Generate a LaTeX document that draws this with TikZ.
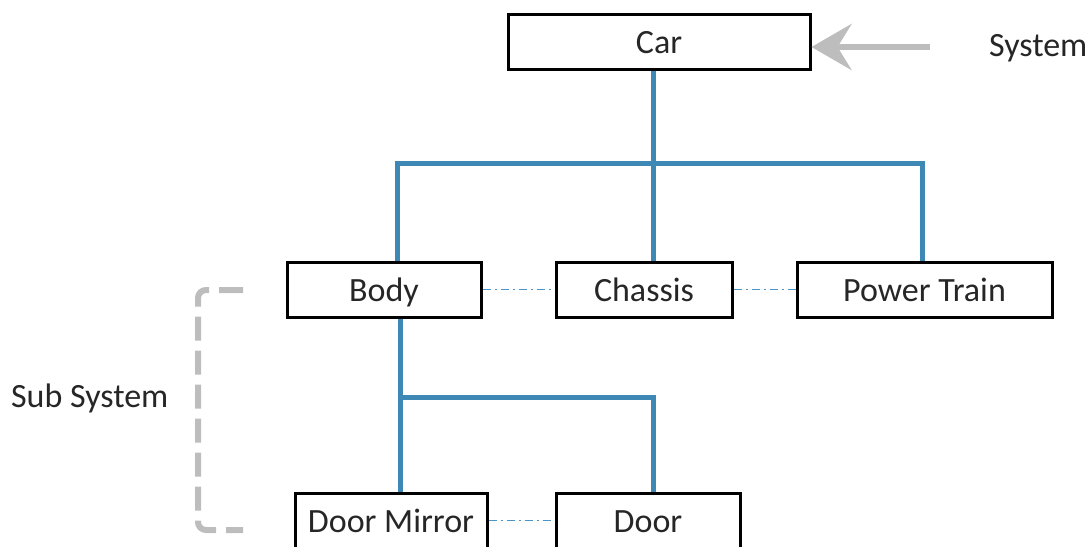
\documentclass[tikz,border=0pt]{standalone}
\usepackage{fontspec}
\setmainfont{Carlito}
\usetikzlibrary{positioning,arrows.meta}

\definecolor{treeblue}{HTML}{3E88B5}
\definecolor{peerblue}{HTML}{4A95C8}
\definecolor{markgray}{HTML}{BDBDBD}

\begin{document}
\begin{tikzpicture}[
    x=0.5pt, y=-0.5pt,
    font=\fontsize{17}{20}\selectfont,
    part/.style={draw, line width=1.5pt, inner sep=0pt, minimum height=27.5pt,
        text height=14pt, text depth=2.5pt, text=black!85},
    tree/.style={draw=treeblue, line width=2.5pt},
    peer/.style={draw=peerblue, line width=0.6pt, dash pattern=on 4pt off 2pt on 1pt off 2pt},
    level/.style={draw=markgray, line width=3pt}
]
\useasboundingbox (0,0) rectangle (1090,546);
\clip (0,0) rectangle (1090,546);

\node[part, minimum width=151pt] (car) at (659,41.5) {Car};
\node[part, minimum width=97pt] (body) at (384,289.5) {Body};
\node[part, minimum width=88pt] (chassis) at (644,289.5) {Chassis};
\node[part, minimum width=127.5pt] (power) at (924.5,289.5) {Power Train};
\node[part, minimum width=96pt] (mirror) at (391,520.5) {Door Mirror};
\node[part, minimum width=92pt] (door) at (648,520.5) {Door};

\node[anchor=west, text=black!85] (system) at (982,48) {System};
\node[anchor=west, text=black!85] (subsystem) at (4,398) {Sub System};

% branch points of the tree
\coordinate (top) at (653,163);
\coordinate (topl) at (397,163);
\coordinate (topr) at (922,163);
\coordinate (mid) at (400,397);
\coordinate (midr) at (653,397);

\draw[tree] (car.south -| top) -- (top);
\draw[tree] (topl |- body.north) -- (topl) -- (topr) -- (topr |- power.north);
\draw[tree] (top) -- (top |- chassis.north);
\draw[tree] (mid |- body.south) -- (mid |- mirror.north);
\draw[tree] (mid) -- (midr) -- (midr |- door.north);

\draw[peer] (body) -- (chassis);
\draw[peer] (chassis) -- (power);
\draw[peer] (mirror) -- (door);

% level markers
\coordinate (arrowstart) at (930,47);
\draw[level, -{Stealth[length=20pt, width=23pt, inset=7pt]}] (arrowstart) -- (car.east |- arrowstart);
\draw[level, dash pattern=on 12pt off 5pt, rounded corners=4pt]
    (243,290) -- (198,290) -- (198,530) -- (243,530);
\end{tikzpicture}
\end{document}
